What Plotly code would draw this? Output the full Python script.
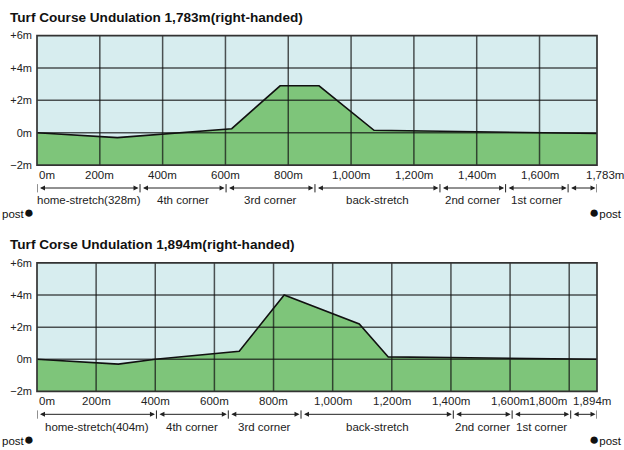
import plotly.graph_objects as go

# ---------------- data ----------------
top_title = "Turf Course Undulation 1,783m(right-handed)"
top_dist = [0, 256, 620, 774, 898, 1073, 1783]
top_height = [0, -0.3, 0.25, 2.9, 2.9, 0.15, -0.05]
top_length = 1783
top_xticks = [0, 200, 400, 600, 800, 1000, 1200, 1400, 1600, 1783]
top_xtext = ["0m", "200m", "400m", "600m", "800m", "1,000m", "1,200m", "1,400m", "1,600m", "1,783m"]
top_bounds = [0, 328, 602, 885, 1283, 1492, 1691, 1783]
top_sections = ["home-stretch(328m)", "4th corner", "3rd corner", "back-stretch", "2nd corner", "1st corner", ""]

bot_title = "Turf Corse Undulation 1,894m(right-handed)"
bot_dist = [0, 275, 400, 684, 836, 1002, 1090, 1188, 1894]
bot_height = [0, -0.3, 0, 0.5, 4.0, 2.8, 2.2, 0.15, 0]
bot_length = 1894
bot_xticks = [0, 200, 400, 600, 800, 1000, 1200, 1400, 1600, 1800, 1894]
bot_xtext = ["0m", "200m", "400m", "600m", "800m", "1,000m", "1,200m", "1,400m", "1,600m", "1,800m", "1,894m"]
bot_bounds = [0, 404, 647, 893, 1408, 1607, 1805, 1894]
bot_sections = ["home-stretch(404m)", "4th corner", "3rd corner", "back-stretch", "2nd corner", "1st corner", ""]

y_ticks = [-2, 0, 2, 4, 6]
y_text = ["\u22122m", "0m", "+2m", "+4m", "+6m"]

# ---------------- style ----------------
FONT = "Liberation Sans, Arial, sans-serif"
BG = "#d7edef"
GREEN = "#7ec57a"
GRID = "rgba(20,20,20,0.72)"
W, H = 624, 450
X_DOM = [37 / W, 597 / W]
TOP_DOM = [1 - 163.5 / H, 1 - 30.4 / H]
BOT_DOM = [1 - 396 / H, 1 - 264 / H]

fig = go.Figure()
shapes = []
annotations = []


def add_panel(idx, title, dist, height, length, xticks, xtext, bounds, sections, ydom):
    xa = "x" if idx == 1 else "x2"
    ya = "y" if idx == 1 else "y2"
    ph = (ydom[1] - ydom[0]) * H  # panel height in px

    def d(px):  # pixels below the axis -> domain fraction
        return -px / ph

    fig.add_trace(go.Scatter(x=[0, length], y=[-2, -2], xaxis=xa, yaxis=ya, mode="lines",
                             line=dict(width=0), hoverinfo="skip", showlegend=False))
    fig.add_trace(go.Scatter(x=dist, y=height, xaxis=xa, yaxis=ya, mode="lines",
                             fill="tonexty", fillcolor=GREEN,
                             line=dict(color="#111111", width=1.6), showlegend=False))
    for xv in xticks[1:-1]:
        shapes.append(dict(type="line", xref=xa, yref=ya + " domain", x0=xv, x1=xv, y0=0, y1=1,
                           line=dict(color=GRID, width=1.5), layer="above"))
    for yv in y_ticks[1:-1]:
        shapes.append(dict(type="line", xref=xa + " domain", yref=ya, x0=0, x1=1, y0=yv, y1=yv,
                           line=dict(color=GRID, width=1.5), layer="above"))
    shapes.append(dict(type="rect", xref=xa + " domain", yref=ya + " domain", x0=0, x1=1, y0=0, y1=1,
                       line=dict(color="#333333", width=1.7), layer="above"))
    n = len(xticks)
    for i, (xv, tx) in enumerate(zip(xticks, xtext)):
        anchor, shift = "center", 0
        if i == 0:
            anchor = "left"
        elif i == n - 1:
            if length - xticks[i - 1] < 150:
                anchor, shift = "left", -26
            else:
                anchor, shift = "center", 8
        elif i == n - 2 and length - xv < 150:
            anchor = "right"
        annotations.append(dict(x=xv, y=d(1.5), xref=xa, yref=ya + " domain", text=tx,
                                showarrow=False, xanchor=anchor, yanchor="top", xshift=shift,
                                font=dict(family=FONT, size=11.5, color="#222")))
    for i in range(len(bounds) - 1):
        annotations.append(dict(x=bounds[i + 1], y=d(23.5), ax=bounds[i], ay=d(23.5),
                                xref=xa, yref=ya + " domain", axref=xa, ayref=ya + " domain",
                                text="", showarrow=True, arrowhead=2, arrowside="end+start",
                                arrowsize=1, arrowwidth=1, arrowcolor="#222",
                                standoff=1.5, startstandoff=1.5))
        if sections[i]:
            annotations.append(dict(x=(bounds[i] + bounds[i + 1]) / 2, y=d(28), xref=xa,
                                    yref=ya + " domain", text=sections[i], showarrow=False,
                                    xanchor="center", yanchor="top",
                                    font=dict(family=FONT, size=11.5, color="#222")))
    for b in bounds:
        shapes.append(dict(type="line", xref=xa, yref=ya + " domain", x0=b, x1=b, y0=d(19.5), y1=d(28),
                           line=dict(color="#222", width=1)))
    annotations.append(dict(x=-37 / 560, y=d(49), xref=xa + " domain", yref=ya + " domain",
                            text="post<span style='font-size:17px'>\u25cf</span>", showarrow=False,
                            xanchor="left", yanchor="middle",
                            font=dict(family=FONT, size=11.5, color="#111")))
    annotations.append(dict(x=1 + 27 / 560, y=d(49), xref=xa + " domain", yref=ya + " domain",
                            text="<span style='font-size:17px'>\u25cf</span>post", showarrow=False,
                            xanchor="right", yanchor="middle",
                            font=dict(family=FONT, size=11.5, color="#111")))
    annotations.append(dict(x=8 / W, y=ydom[1] + 19 / H, xref="paper", yref="paper", text="<b>%s</b>" % title,
                            showarrow=False, xanchor="left", yanchor="middle",
                            font=dict(family=FONT, size=13.6, color="#111")))


add_panel(1, top_title, top_dist, top_height, top_length, top_xticks, top_xtext, top_bounds, top_sections, TOP_DOM)
add_panel(2, bot_title, bot_dist, bot_height, bot_length, bot_xticks, bot_xtext, bot_bounds, bot_sections, BOT_DOM)

yax = dict(range=[-2, 6], tickvals=y_ticks, ticktext=y_text, showgrid=False, zeroline=False,
           showline=False, ticks="", ticklabelstandoff=4, fixedrange=True,
           tickfont=dict(family=FONT, size=11, color="#222"))
xax = dict(showgrid=False, zeroline=False, showticklabels=False, showline=False, ticks="",
           domain=X_DOM, fixedrange=True)

fig.update_layout(
    width=W, height=H, autosize=False,
    margin=dict(l=0, r=0, t=0, b=0),
    paper_bgcolor="white", plot_bgcolor=BG,
    xaxis=dict(xax, range=[0, top_length], anchor="y"),
    yaxis=dict(yax, domain=TOP_DOM, anchor="x"),
    xaxis2=dict(xax, range=[0, bot_length], anchor="y2"),
    yaxis2=dict(yax, domain=BOT_DOM, anchor="x2"),
    yaxis3=dict(yax, overlaying="y", side="right", anchor="x"),
    yaxis4=dict(yax, overlaying="y2", side="right", anchor="x2"),
    shapes=shapes, annotations=annotations,
    showlegend=False,
)

fit_js = """
var css = 'margin:0;padding:0;overflow:hidden;height:100%;';
document.documentElement.style.cssText = css;
document.body.style.cssText = css;
"""

fig.write_html("out.html", config={"displayModeBar": False}, post_script=fit_js)
